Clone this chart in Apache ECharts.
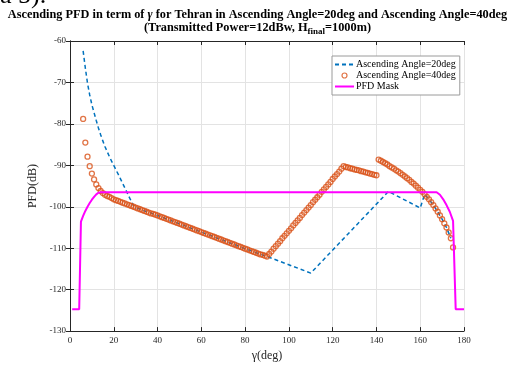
<!DOCTYPE html>
<html><head><meta charset="utf-8">
<script src="https://cdn.jsdelivr.net/npm/echarts@6/dist/echarts.min.js"></script>
<style>html,body{margin:0;padding:0;background:#fff}#c{width:515px;height:367px}</style>
</head><body><div id="c"></div>
<script>
// ---- data ----
const xTicks = [0, 20, 40, 60, 80, 100, 120, 140, 160, 180];
const yTicks = [-130, -120, -110, -100, -90, -80, -70, -60];

// Ascending Angle = 20deg (dashed line)
const gamma20 = [6,7,8,9,10,11,12,13,14,15,16,17,18,19,20,21,22,23,24,25,26,27,28,29,30,40,50,60,70,80,90,110,145.5,160,162,164,166,168,170,172,174];
const pfd20 = [-62.4,-66.5,-70.2,-73.0,-75.4,-77.3,-79.2,-81.0,-82.6,-84.1,-85.5,-86.7,-87.9,-89.0,-90.0,-91.1,-92.1,-93.2,-94.3,-95.4,-96.5,-97.6,-98.7,-99.7,-100.2,-102.1,-104.1,-106.1,-108.1,-110.1,-112.0,-116.0,-96.3,-100.3,-97.0,-98.2,-99.6,-101.2,-103.0,-105.0,-107.6];

// Ascending Angle = 40deg (markers)
const gamma40 = [6,7,8,9,10,11,12,13,14,15,16,17,18,19,20,21,22,23,24,25,26,27,28,29,30,31,32,33,34,35,36,37,38,39,40,41,42,43,44,45,46,47,48,49,50,51,52,53,54,55,56,57,58,59,60,61,62,63,64,65,66,67,68,69,70,71,72,73,74,75,76,77,78,79,80,81,82,83,84,85,86,87,88,89,90,
 91,92,93,94,95,96,97,98,99,100,101,102,103,104,105,106,107,108,109,110,111,112,113,114,115,116,117,118,119,120,121,122,123,124,125,
 126,127,128,129,130,131,132,133,134,135,136,137,138,139,140,
 141,142,143,144,145,146,147,148,149,150,151,152,153,154,155,156,157,158,159,160,161,162,163,164,165,166,167,168,169,170,171,172,173,174,175];
const pfd40 = [-78.8,-84.5,-87.9,-90.2,-92.0,-93.4,-94.6,-95.5,-96.2,-96.7,-97.1,-97.4,-97.6,-97.9,-98.2,-98.4,-98.6,-98.8,-99.0,-99.2,-99.4,-99.6,-99.8,-100.0,-100.2,-100.4,-100.6,-100.8,-101.0,-101.2,-101.4,-101.6,-101.7,-101.9,-102.1,-102.3,-102.5,-102.7,-102.9,-103.1,-103.3,-103.5,-103.7,-103.9,-104.1,-104.3,-104.5,-104.7,-104.9,-105.1,-105.3,-105.5,-105.7,-105.9,-106.1,-106.3,-106.5,-106.7,-106.9,-107.1,-107.3,-107.5,-107.7,-107.9,-108.1,-108.3,-108.5,-108.7,-108.9,-109.1,-109.3,-109.5,-109.7,-109.9,-110.1,-110.3,-110.5,-110.7,-110.9,-111.1,-111.3,-111.5,-111.6,-111.8,-112.0,
 -111.4,-110.8,-110.1,-109.5,-108.9,-108.3,-107.6,-107.0,-106.4,-105.8,-105.2,-104.5,-103.9,-103.3,-102.7,-102.0,-101.4,-100.8,-100.2,-99.6,-98.9,-98.3,-97.7,-97.1,-96.4,-95.8,-95.2,-94.6,-94.0,-93.3,-92.7,-92.1,-91.5,-90.8,-90.2,
 -90.4,-90.5,-90.7,-90.8,-91.0,-91.1,-91.2,-91.4,-91.5,-91.7,-91.8,-92.0,-92.1,-92.3,-92.4,
 -88.6,-88.9,-89.2,-89.5,-89.8,-90.2,-90.5,-90.8,-91.2,-91.5,-91.9,-92.3,-92.7,-93.1,-93.5,-94.0,-94.4,-94.9,-95.4,-95.9,-96.4,-97.0,-97.6,-98.2,-98.9,-99.6,-100.4,-101.2,-102.1,-103.0,-104.0,-105.0,-106.2,-107.6,-109.8];

// PFD Mask
const gammaMask = [1,4.2,5.0,6,7,8,9,10,11,12,13,14,167.5,169,170.5,172,173.5,175,176.2,180];
const pfdMask = [-124.7,-124.7,-103.6,-102.2,-101.0,-100.0,-99.1,-98.3,-97.6,-97.0,-96.6,-96.5,-96.5,-97.1,-98.2,-99.6,-101.2,-103.4,-124.7,-124.7];

const seriesNames = ['Ascending Angle=20deg', 'Ascending Angle=40deg', 'PFD Mask'];

// ---- chart ----
const zip = (a, b) => a.map((v, i) => [v, b[i]]);
const serif = 'Liberation Serif';
const axisCol = '#262626';
const orange = '#D95319';
const chart = echarts.init(document.getElementById('c'), null, {renderer: 'canvas'});
const commonX = {type: 'value', min: xTicks[0], max: xTicks[xTicks.length - 1], interval: 20};
const commonY = {type: 'value', min: yTicks[0], max: yTicks[yTicks.length - 1], interval: 10};
chart.setOption({
  animation: false,
  backgroundColor: '#fff',
  title: {
    left: 'center', top: 4, itemGap: 0,
    text: '{a|Ascending PFD in term of }{g|γ}{a| for Tehran in Ascending Angle=20deg and Ascending Angle=40deg}',
    subtext: '{a|(Transmitted Power=12dBw, H}{s|final}{a|=1000m)}',
    textStyle: {rich: {
      a: {fontFamily: serif, fontWeight: 'bold', fontSize: 12.3, color: '#000', lineHeight: 12},
      g: {fontFamily: serif, fontStyle: 'italic', fontSize: 12.3, color: '#000', lineHeight: 12}
    }},
    subtextStyle: {rich: {
      a: {fontFamily: serif, fontWeight: 'bold', fontSize: 12.3, color: '#000', lineHeight: 13},
      s: {fontFamily: serif, fontWeight: 'bold', fontSize: 9, color: '#000', lineHeight: 7, padding: [8, 0, 0, 0]}
    }}
  },
  graphic: [{type: 'text', left: 0, top: -17, style: {text: 'a 5).', font: '26px "Liberation Serif"', fill: '#000'}}],
  legend: {
    data: [
      {name: seriesNames[0], itemStyle: {opacity: 0}},
      {name: seriesNames[1], icon: 'circle', itemStyle: {color: 'rgba(255,255,255,0)', borderColor: orange, borderWidth: 1.2}},
      {name: seriesNames[2], itemStyle: {opacity: 0}}
    ],
    orient: 'vertical', left: 332, top: 56,
    itemWidth: 19, itemHeight: 5, itemGap: 0, padding: [3, 4, 3, 2],
    backgroundColor: '#fff', borderColor: '#9a9a9a', borderWidth: 1, borderRadius: 0,
    textStyle: {fontFamily: serif, fontSize: 10, color: '#000', lineHeight: 11, padding: [0, 0, 0, -3]}
  },
  grid: {left: 70, right: 51, top: 41, bottom: 34},
  xAxis: [
    Object.assign({}, commonX, {
      position: 'bottom', name: 'γ(deg)', nameLocation: 'middle', nameGap: 15,
      nameTextStyle: {fontFamily: serif, fontSize: 12, color: axisCol},
      axisLine: {lineStyle: {color: axisCol, width: 1}},
      axisTick: {inside: true, length: 4, lineStyle: {color: axisCol}},
      axisLabel: {fontFamily: serif, fontSize: 9, color: axisCol, margin: 5},
      splitLine: {show: true, lineStyle: {color: '#e3e3e3', width: 1}}
    }),
    Object.assign({}, commonX, {
      position: 'top', axisLine: {lineStyle: {color: axisCol, width: 1}},
      axisTick: {inside: true, length: 4, lineStyle: {color: axisCol}},
      axisLabel: {show: false}, splitLine: {show: false}
    })
  ],
  yAxis: [
    Object.assign({}, commonY, {
      position: 'left', name: 'PFD(dB)', nameLocation: 'middle', nameGap: 19,
      nameTextStyle: {fontFamily: serif, fontSize: 12, color: axisCol},
      axisLine: {show: true, lineStyle: {color: axisCol, width: 1}},
      axisTick: {show: true, inside: true, length: 4, lineStyle: {color: axisCol}},
      axisLabel: {fontFamily: serif, fontSize: 9, color: axisCol, margin: 4},
      splitLine: {show: true, lineStyle: {color: '#e3e3e3', width: 1}}
    }),
    Object.assign({}, commonY, {
      position: 'right', axisLine: {show: true, lineStyle: {color: axisCol, width: 1}},
      axisTick: {show: true, inside: true, length: 4, lineStyle: {color: axisCol}},
      axisLabel: {show: false}, splitLine: {show: false}
    })
  ],
  series: [
    {name: seriesNames[0], type: 'line', data: zip(gamma20, pfd20), showSymbol: false, symbol: 'none',
     lineStyle: {color: '#0072BD', width: 1.5, type: [4, 3]}, itemStyle: {color: '#0072BD'}, z: 2},
    {name: seriesNames[1], type: 'scatter', data: zip(gamma40, pfd40), symbol: 'circle', symbolSize: 5,
     itemStyle: {color: 'rgba(255,255,255,0)', borderColor: orange, borderWidth: 1.3}, z: 3},
    {name: seriesNames[2], type: 'line', data: zip(gammaMask, pfdMask), showSymbol: false, symbol: 'none',
     lineStyle: {color: '#FF00FF', width: 2}, itemStyle: {color: '#FF00FF'}, z: 4}
  ]
});
</script></body></html>
